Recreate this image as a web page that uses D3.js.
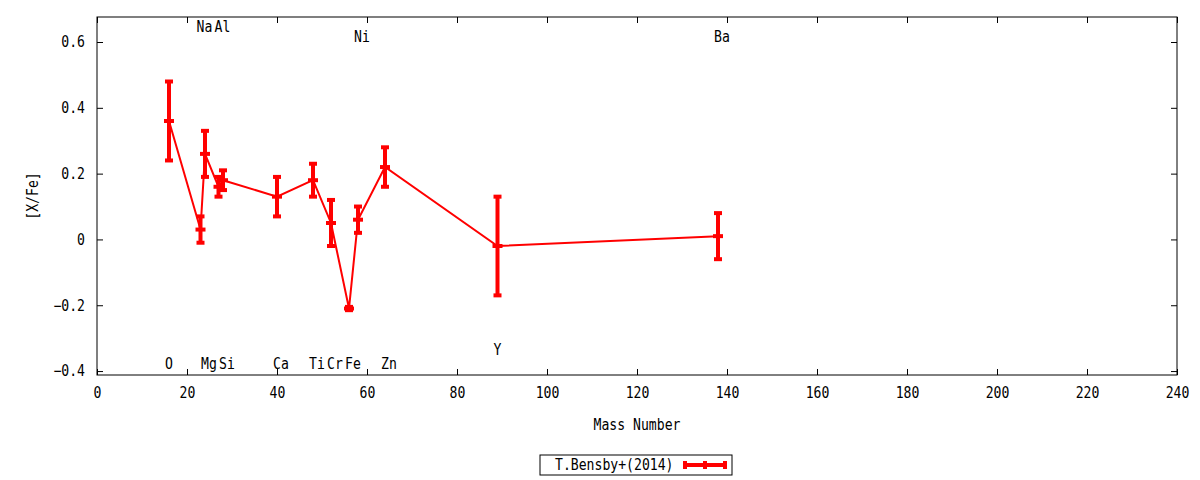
<!DOCTYPE html>
<html>
<head>
<meta charset="utf-8">
<script src="https://cdn.jsdelivr.net/npm/d3@7"></script>
<style>
  body { margin: 0; background: #fff; }
  text { font-family: "DejaVu Sans Mono", monospace; font-size: 15px; fill: #000; }
</style>
</head>
<body>
<svg id="chart" width="1200" height="480"></svg>
<script>
  const elements = ["O", "Na", "Mg", "Al", "Si", "Ca", "Ti", "Cr", "Fe", "Ni", "Zn", "Y", "Ba"];
  const massNumbers = [16, 23, 24, 27, 28, 40, 48, 52, 56, 58, 64, 89, 138];
  const xFe = [0.36, 0.03, 0.26, 0.16, 0.18, 0.13, 0.18, 0.05, -0.21, 0.06, 0.22, -0.02, 0.01];
  const xFeErr = [0.12, 0.04, 0.07, 0.03, 0.03, 0.06, 0.05, 0.07, 0.005, 0.04, 0.06, 0.15, 0.07];
  // where the element name is written, in [X/Fe] units
  const labelY = [-0.377, 0.645, -0.377, 0.645, -0.377, -0.377, -0.377, -0.377, -0.377, 0.615, -0.377, -0.335, 0.615];

  const xTicks = d3.range(0, 241, 20);
  const yTicks = [-0.4, -0.2, 0, 0.2, 0.4, 0.6];
  const seriesName = "T.Bensby+(2014)";

  const data = d3.zip(elements, massNumbers, xFe, xFeErr, labelY).map((d) => ({
    el: d[0], a: d[1], v: d[2], e: d[3], ly: d[4],
  }));

  const plot = { left: 97, right: 1177, top: 17, bottom: 375 };
  const x = d3.scaleLinear().domain([0, 240]).range([plot.left, plot.right]);
  const y = d3.scaleLinear().domain([-0.412, 0.676]).range([plot.bottom, plot.top]);

  const svg = d3.select("#chart");
  const red = "#ff0000";

  // the gnuplot font is narrow and tall, squeeze glyphs to ~7.9px each
  function squeeze(sel) {
    sel.each(function () {
      const t = d3.select(this);
      const n = t.text().length;
      if (n) t.attr("textLength", n * 7.9).attr("lengthAdjust", "spacingAndGlyphs");
    });
  }

  // axes, gnuplot style: ticks inside, mirrored
  svg.append("g")
    .attr("transform", `translate(0,${plot.bottom})`)
    .call(d3.axisBottom(x).tickValues(xTicks).tickSizeInner(-6).tickSizeOuter(0).tickPadding(12))
    .call((g) => g.select(".domain").remove());
  svg.append("g")
    .attr("transform", `translate(0,${plot.top})`)
    .call(d3.axisTop(x).tickValues(xTicks).tickSizeInner(-6).tickSizeOuter(0).tickFormat(""))
    .call((g) => g.select(".domain").remove());
  svg.append("g")
    .attr("transform", `translate(${plot.left},0)`)
    .call(d3.axisLeft(y).tickValues(yTicks).tickSizeInner(-6).tickSizeOuter(0).tickPadding(12)
      .tickFormat((d) => (d === 0 ? "0" : d3.format(".1f")(d))))
    .call((g) => g.select(".domain").remove());
  svg.append("g")
    .attr("transform", `translate(${plot.right},0)`)
    .call(d3.axisRight(y).tickValues(yTicks).tickSizeInner(-6).tickSizeOuter(0).tickFormat(""))
    .call((g) => g.select(".domain").remove());

  svg.selectAll(".tick line").attr("stroke", "#000");
  svg.selectAll(".tick text").style("font-family", "DejaVu Sans Mono").style("font-size", "15px");

  svg.append("rect")
    .attr("x", plot.left).attr("y", plot.top)
    .attr("width", plot.right - plot.left).attr("height", plot.bottom - plot.top)
    .attr("fill", "none").attr("stroke", "#000").attr("stroke-width", 1);

  // axis titles
  svg.append("text")
    .attr("x", (plot.left + plot.right) / 2).attr("y", 430)
    .attr("text-anchor", "middle")
    .text("Mass Number");
  svg.append("text")
    .attr("transform", `translate(38,${(plot.top + plot.bottom) / 2}) rotate(-90)`)
    .attr("text-anchor", "middle")
    .text("[X/Fe]");

  // element names
  svg.selectAll(".elabel")
    .data(data)
    .enter()
    .append("text")
    .attr("class", "elabel")
    .attr("x", (d) => x(d.a) - 4)
    .attr("y", (d) => y(d.ly))
    .attr("dy", "0.35em")
    .text((d) => d.el);

  // connecting line
  const line = d3.line().x((d) => x(d.a)).y((d) => y(d.v));
  svg.append("path")
    .datum(data)
    .attr("fill", "none")
    .attr("stroke", red)
    .attr("stroke-width", 2)
    .attr("d", line);

  // error bars
  const bars = svg.selectAll(".err").data(data).enter().append("g").attr("class", "err")
    .attr("stroke", red).attr("stroke-width", 4);
  bars.append("line")
    .attr("x1", (d) => x(d.a)).attr("x2", (d) => x(d.a))
    .attr("y1", (d) => y(d.v - d.e)).attr("y2", (d) => y(d.v + d.e));
  bars.append("line")
    .attr("x1", (d) => x(d.a) - 4).attr("x2", (d) => x(d.a) + 4)
    .attr("y1", (d) => y(d.v + d.e)).attr("y2", (d) => y(d.v + d.e));
  bars.append("line")
    .attr("x1", (d) => x(d.a) - 4).attr("x2", (d) => x(d.a) + 4)
    .attr("y1", (d) => y(d.v - d.e)).attr("y2", (d) => y(d.v - d.e));
  bars.append("line")
    .attr("x1", (d) => x(d.a) - 5).attr("x2", (d) => x(d.a) + 5)
    .attr("y1", (d) => y(d.v)).attr("y2", (d) => y(d.v));

  // legend
  const lg = svg.append("g").attr("transform", "translate(540,455)");
  lg.append("rect")
    .attr("width", 192).attr("height", 20)
    .attr("fill", "#fff").attr("stroke", "#000").attr("stroke-width", 1);
  lg.append("text").attr("x", 15).attr("y", 10).attr("dy", "0.35em").text(seriesName);
  const ls = lg.append("g").attr("stroke", red).attr("stroke-width", 4);
  ls.append("line").attr("x1", 145).attr("x2", 185).attr("y1", 10).attr("y2", 10);
  ls.append("line").attr("x1", 145).attr("x2", 145).attr("y1", 6).attr("y2", 14);
  ls.append("line").attr("x1", 185).attr("x2", 185).attr("y1", 6).attr("y2", 14);
  ls.append("line").attr("x1", 165).attr("x2", 165).attr("y1", 6).attr("y2", 14);

  svg.selectAll("text").call(squeeze);
</script>
</body>
</html>
